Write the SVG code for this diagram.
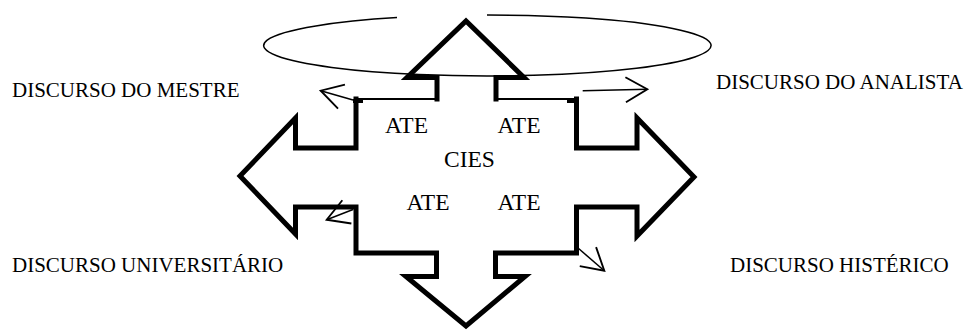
<svg xmlns="http://www.w3.org/2000/svg" width="970" height="331" viewBox="0 0 970 331">
  <style>
    .thick { fill: none; stroke: #000; stroke-width: 5; stroke-linejoin: miter; stroke-miterlimit: 10; stroke-linecap: square; }
    .thin { fill: none; stroke: #000; stroke-width: 2; }
    .ell { fill: none; stroke: #000; stroke-width: 1.5; }
    .conn { fill: none; stroke: #000; stroke-width: 1.5; marker-end: url(#open); }
    .lbl { font-family: "Liberation Serif", "Times New Roman", serif; font-size: 21px; fill: #000; }
    .inner { font-family: "Liberation Serif", "Times New Roman", serif; font-size: 23.5px; fill: #000; }
  </style>
  <defs>
    <marker id="open" markerUnits="userSpaceOnUse" markerWidth="30" markerHeight="30" viewBox="-20 -12 22 24" refX="0" refY="0" orient="auto" overflow="visible">
      <path d="M-17.3,-10 L0,0 L-17.3,10" fill="none" stroke="#000" stroke-width="1.5"/>
    </marker>
  </defs>
  <rect x="0" y="0" width="970" height="331" fill="#fff"/>

  <g id="orbit">
    <path class="ell" d="M487,15 A223.7,30.5 0 1 1 397,17.6"/>
  </g>

  <g id="cross">
    <path class="thick" d="M437,99 L437,77.5 L407,77.5 L466,21 L524,77.5 L496,77.5 L496,99"/>
    <path class="thick" d="M576.5,99 L576.5,148 L637,148 L637,118 L694,177 L637,236 L637,207 L576.5,207 L576.5,253 L495.5,253 L495.5,276.5 L525,276.5 L466,326 L406,276.5 L436.5,276.5 L436.5,253 L356,253 L356,207 L295.5,207 L295.5,234 L240,176 L295.5,118 L295.5,148 L356,148 L356,99"/>
    <path class="thin" d="M356,99 L437,99 M496,99 L576.5,99"/>
    <rect x="353" y="99" width="10" height="4" fill="#000"/>
    <rect x="567" y="99" width="12" height="4" fill="#000"/>
  </g>

  <g id="center-labels">
    <text class="inner" x="385" y="133">ATE</text>
    <text class="inner" x="497.5" y="133">ATE</text>
    <text class="inner" x="444" y="166.5">CIES</text>
    <text class="inner" x="406.5" y="210">ATE</text>
    <text class="inner" x="497.5" y="210">ATE</text>
  </g>

  <g id="node-mestre"><text class="lbl" x="12" y="97.3">DISCURSO DO MESTRE</text></g>
  <g id="node-analista"><text class="lbl" x="716" y="89.3">DISCURSO DO ANALISTA</text></g>
  <g id="node-universitario"><text class="lbl" x="12" y="271.7">DISCURSO UNIVERSITÁRIO</text></g>
  <g id="node-histerico"><text class="lbl" x="730" y="271.7">DISCURSO HISTÉRICO</text></g>

  <g id="connectors">
    <path class="conn" d="M353,100 L320.7,90.7"/>
    <path class="conn" d="M582.7,90.7 L647.3,89.3"/>
    <path class="conn" d="M353,209.5 L326.7,219.7"/>
    <path class="conn" d="M578.3,248.3 L604.3,270.7"/>
  </g>
</svg>
